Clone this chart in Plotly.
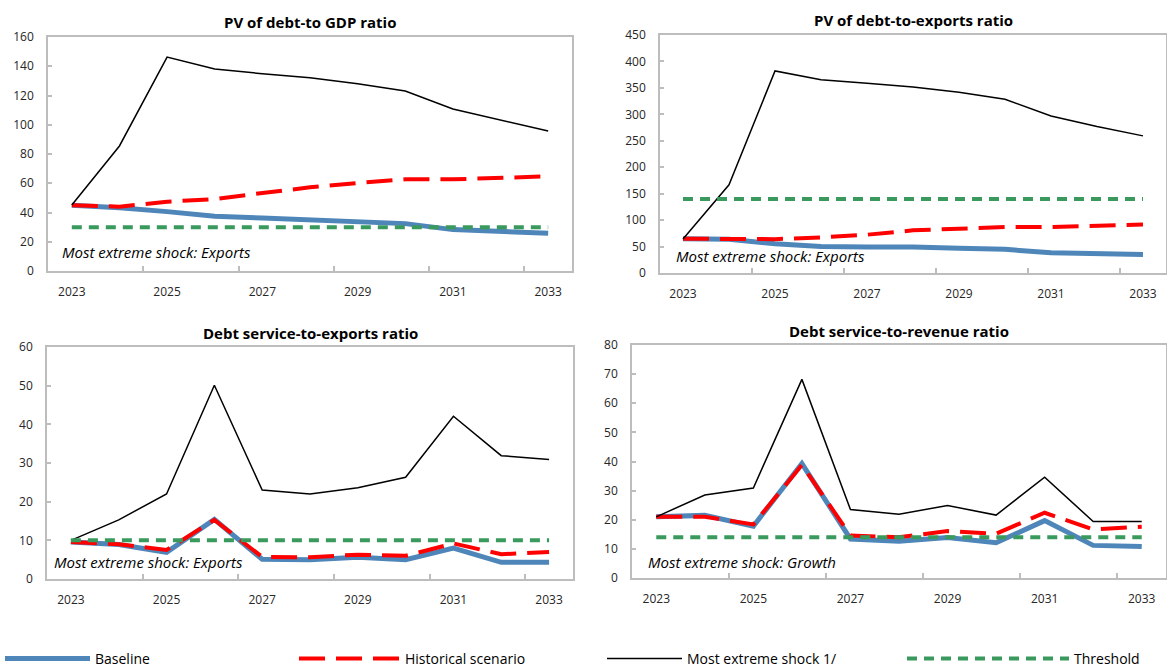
import plotly.graph_objects as go
from plotly.subplots import make_subplots

years = list(range(2023, 2034))
tick_years = [2023, 2025, 2027, 2029, 2031, 2033]

# Panel 1: PV of debt-to GDP ratio
gdp_baseline = [45.0, 43.3, 40.6, 37.4, 36.2, 35.1, 33.7, 32.4, 28.3, 26.9, 25.8]
gdp_historical = [45.0, 44.0, 47.4, 49.2, 53.3, 57.2, 60.2, 62.7, 62.7, 63.6, 64.7]
gdp_extreme = [45.1, 85.5, 146.3, 138.1, 134.9, 132.2, 128.1, 123.1, 110.8, 103.0, 95.7]
gdp_threshold = [30] * 11

# Panel 2: PV of debt-to-exports ratio
exp_baseline = [64.8, 63.6, 55.4, 50.3, 49.1, 49.1, 46.6, 44.7, 38.4, 36.5, 35.2]
exp_historical = [64.8, 64.0, 64.0, 67.3, 72.4, 80.6, 83.0, 86.8, 86.8, 89.4, 91.9]
exp_extreme = [64.2, 166.8, 382.0, 365.6, 358.7, 351.8, 341.7, 328.5, 297.0, 277.0, 259.3]
exp_threshold = [140] * 11

# Panel 3: Debt service-to-exports ratio
dse_baseline = [9.6, 8.9, 6.9, 15.4, 5.1, 5.0, 5.6, 5.0, 8.0, 4.3, 4.3]
dse_historical = [9.6, 9.0, 7.5, 15.3, 5.7, 5.6, 6.3, 6.0, 9.2, 6.4, 7.0]
dse_extreme = [10.0, 15.3, 22.0, 50.1, 23.0, 22.0, 23.6, 26.3, 42.1, 31.9, 30.9]
dse_threshold = [10] * 11

# Panel 4: Debt service-to-revenue ratio
dsr_baseline = [21.0, 21.5, 17.8, 39.3, 13.4, 12.6, 13.9, 12.1, 19.7, 11.2, 10.8]
dsr_historical = [21.0, 21.0, 18.4, 38.8, 14.6, 14.0, 16.1, 15.2, 22.4, 16.7, 17.6]
dsr_extreme = [21.0, 28.5, 30.9, 68.2, 23.5, 21.9, 24.9, 21.6, 34.6, 19.4, 19.4]
dsr_threshold = [14] * 11

titles = ["PV of debt-to GDP ratio", "PV of debt-to-exports ratio",
          "Debt service-to-exports ratio", "Debt service-to-revenue ratio"]
shock_notes = ["Most extreme shock: Exports", "Most extreme shock: Exports",
               "Most extreme shock: Exports", "Most extreme shock: Growth"]
series_names = ["Baseline", "Historical scenario", "Most extreme shock 1/", "Threshold"]

panels = [
    (gdp_baseline, gdp_historical, gdp_extreme, gdp_threshold),
    (exp_baseline, exp_historical, exp_extreme, exp_threshold),
    (dse_baseline, dse_historical, dse_extreme, dse_threshold),
    (dsr_baseline, dsr_historical, dsr_extreme, dsr_threshold),
]
y_ranges = [(0, 160, 20), (0, 450, 50), (0, 60, 10), (0, 80, 10)]

W, H = 1167, 669
# plot-area pixel boxes: (left, right, top, bottom)
boxes = [(48, 572, 37, 271), (660, 1166, 35, 273), (47, 573, 347, 579), (632, 1166, 345, 578)]
title_y = [22, 20, 333, 331]
note_pos = [(60, 252), (674, 256), (52, 562), (646, 562)]
legend_ids = ["legend", "legend2", "legend3", "legend4"]
legend_x = [0, 294, 602, 902]
legend_itemwidth = [85, 101, 75, 162]

styles = [
    dict(color="#4f86b9", width=5),
    dict(color="#ff0000", width=4, dash="26px,11px"),
    dict(color="#000000", width=1.5),
    dict(color="#3a9a5e", width=4, dash="10px,7px"),
]

FONT = "Open Sans"
AXC = "#bdbdbd"
fig = make_subplots(rows=2, cols=2)

for i, data in enumerate(panels):
    r, c = i // 2 + 1, i % 2 + 1
    for j, (vals, name) in enumerate(zip(data, series_names)):
        fig.add_trace(go.Scatter(x=years, y=vals, mode="lines", name=name,
                                 line=styles[j], showlegend=(i == 0),
                                 legend=legend_ids[j], legendgroup=name), row=r, col=c)

for i in range(4):
    l, rgt, t, b = boxes[i]
    ax = "" if i == 0 else str(i + 1)
    lo, hi, dt = y_ranges[i]
    fig.layout["xaxis" + ax].update(
        domain=[l / W, rgt / W], range=[2022.5, 2033.5], automargin=False,
        tickmode="array", tickvals=tick_years, ticktext=[str(y) for y in tick_years],
        ticks="", showgrid=False, zeroline=False,
        showline=True, linecolor=AXC, linewidth=1.5, mirror=True,
        tickfont=dict(family=FONT, size=12, color="#262626"),
        ticklabelstandoff=9,
        minor=dict(tickvals=[2024.5, 2026.5, 2028.5, 2030.5, 2032.5],
                   ticks="inside", ticklen=5, tickcolor=AXC, tickwidth=1.5, showgrid=False),
    )
    fig.layout["yaxis" + ax].update(
        domain=[1 - b / H, 1 - t / H], range=[lo, hi], dtick=dt, tick0=0, automargin=False,
        showgrid=False, zeroline=False, ticks="inside", ticklen=4, tickcolor=AXC, tickwidth=1.5,
        showline=True, linecolor=AXC, linewidth=1.5, mirror=True,
        tickfont=dict(family=FONT, size=12, color="#262626"),
        ticklabelstandoff=10,
    )
    fig.add_annotation(text="<b>" + titles[i] + "</b>", xref="paper", yref="paper",
                       x=(l + rgt) / 2 / W, y=1 - title_y[i] / H, xanchor="center", yanchor="middle",
                       showarrow=False, font=dict(family=FONT, size=15, color="#000000"))
    nx, ny = note_pos[i]
    fig.add_annotation(text="<i>" + shock_notes[i] + "</i>", xref="paper", yref="paper",
                       x=nx / W, y=1 - ny / H, xanchor="left", yanchor="middle",
                       showarrow=False, font=dict(family=FONT, size=15, color="#000000"))

legend_layout = {}
for k, lid in enumerate(legend_ids):
    legend_layout[lid] = dict(orientation="h", x=legend_x[k] / W, y=-6 / H, xanchor="left", yanchor="bottom",
                              itemwidth=legend_itemwidth[k],
                              font=dict(family=FONT, size=14, color="#000000"),
                              bgcolor="rgba(0,0,0,0)")

fig.update_layout(
    width=W, height=H, margin=dict(l=0, r=0, t=0, b=0, autoexpand=False),
    paper_bgcolor="white", plot_bgcolor="white",
    **legend_layout,
)

fig.write_html("out.html", config={"displayModeBar": False},
               post_script="document.body.style.margin='0';document.body.style.overflow='hidden';")
